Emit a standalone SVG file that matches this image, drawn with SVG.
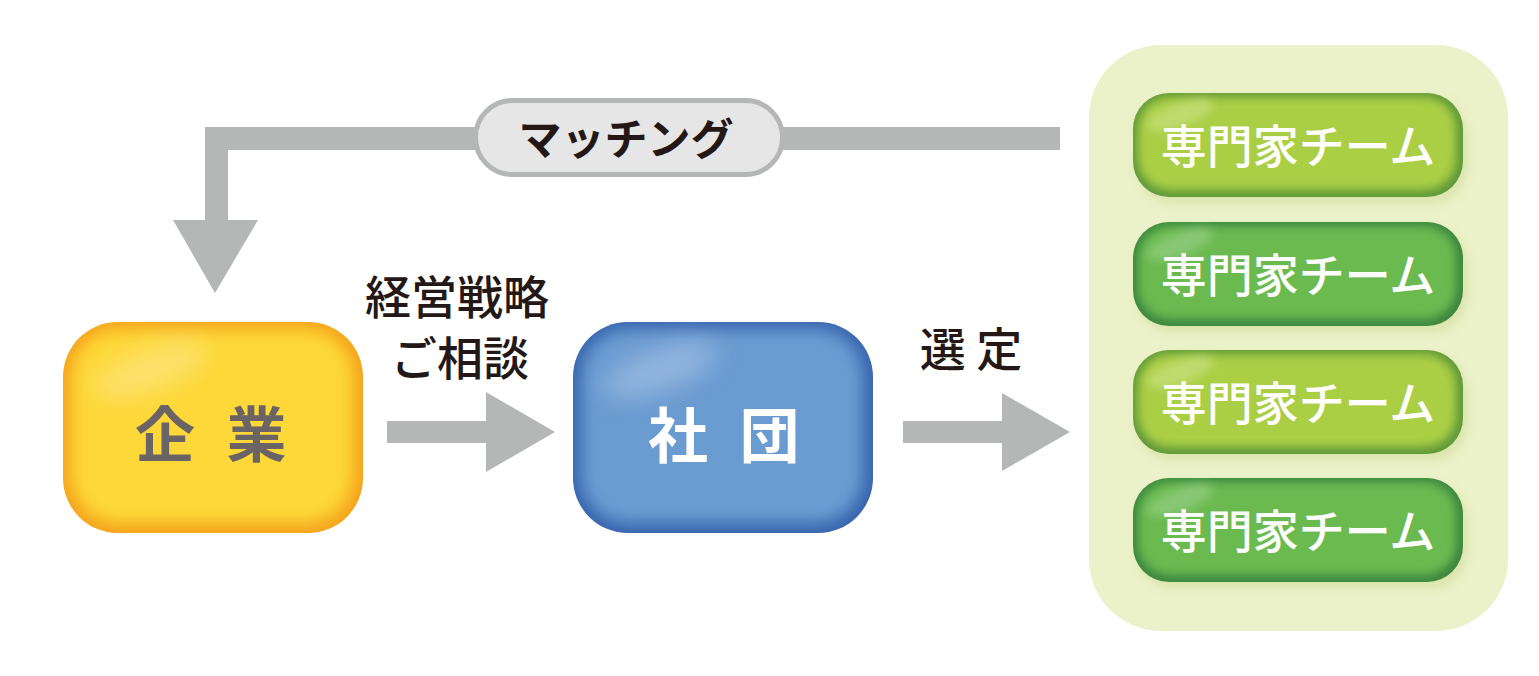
<svg xmlns="http://www.w3.org/2000/svg" width="1539" height="676" viewBox="0 0 1539 676">
<style>
.conn{fill:#b5b6b6}
.jp{font-family:"Noto Sans CJK JP","Noto Sans CJK SC",sans-serif}
.lbl{font-size:46px;fill:#231815;text-anchor:middle;font-weight:500}
.team{font-size:46px;fill:#ffffff;text-anchor:middle;font-weight:500}
.big{font-size:60px;font-weight:bold;letter-spacing:9px}
</style>
<defs>
<filter id="b8" x="-20%" y="-20%" width="140%" height="140%"><feGaussianBlur stdDeviation="8"/></filter>
<filter id="b5" x="-20%" y="-40%" width="140%" height="180%"><feGaussianBlur stdDeviation="5"/></filter>
<filter id="b12" x="-50%" y="-50%" width="200%" height="200%"><feGaussianBlur stdDeviation="12"/></filter>
<clipPath id="cY"><rect x="63" y="322" width="300" height="211" rx="55"/></clipPath>
<clipPath id="cB"><rect x="573" y="322" width="300" height="211" rx="55"/></clipPath>
<clipPath id="cG1"><rect x="1133" y="93" width="330" height="104" rx="36"/></clipPath>
<clipPath id="cG2"><rect x="1133" y="222" width="330" height="104" rx="36"/></clipPath>
<clipPath id="cG3"><rect x="1133" y="350" width="330" height="104" rx="36"/></clipPath>
<clipPath id="cG4"><rect x="1133" y="478" width="330" height="104" rx="36"/></clipPath>
</defs>
<rect width="1539" height="676" fill="#ffffff"/>

<g id="panel">
<rect x="1089" y="45" width="419" height="586" rx="72" fill="#ebf1c8"/>
</g>

<g id="connectors">
<polygon class="conn" points="1060,127 205,127 205,220 173,220 215,293 258,220 228,220 228,150 1060,150"/>
<polygon class="conn" points="387,421 486,421 486,392 555,432 486,472 486,443 387,443"/>
<polygon class="conn" points="903,421 1002,421 1002,393 1070,432 1002,471 1002,443 903,443"/>
</g>

<g id="matching">
<rect x="475.5" y="100.5" width="307" height="74" rx="37" fill="#e6e6e6" stroke="#b5b6b6" stroke-width="5"/>
<text class="jp" x="626" y="155" font-size="43" font-weight="bold" fill="#231815" text-anchor="middle">マッチング</text>
</g>

<g id="label-consult">
<text class="jp lbl" x="457" y="314">経営戦略</text>
<text class="jp lbl" x="460" y="375">ご相談</text>
</g>

<g id="label-select">
<text class="jp lbl" x="971" y="366" font-size="49">選 定</text>
</g>

<g id="kigyo">
<g clip-path="url(#cY)">
<rect x="63" y="322" width="300" height="211" fill="#f5a31b"/>
<rect x="71" y="329" width="282" height="194" rx="48" fill="#fdd839" filter="url(#b8)"/>
<ellipse cx="150" cy="370" rx="60" ry="22" fill="#feeaa0" opacity="0.5" filter="url(#b12)" transform="rotate(-20 150 370)"/>
</g>
<text class="jp big" x="135" y="457" fill="#6b6464">企 業</text>
</g>

<g id="shadan">
<g clip-path="url(#cB)">
<rect x="573" y="322" width="300" height="211" fill="#3764ad"/>
<rect x="581" y="329" width="282" height="194" rx="48" fill="#6b9bd1" filter="url(#b8)"/>
<ellipse cx="660" cy="370" rx="60" ry="22" fill="#b7cdea" opacity="0.5" filter="url(#b12)" transform="rotate(-20 660 370)"/>
</g>
<text class="jp big" x="648" y="458" fill="#ffffff">社 団</text>
</g>

<g id="team1">
<rect x="1137" y="99" width="330" height="104" rx="36" fill="#c9d98f" opacity="0.5" filter="url(#b5)"/>
<g clip-path="url(#cG1)">
<rect x="1133" y="93" width="330" height="104" fill="#5f983a"/>
<rect x="1138" y="97" width="318" height="93" rx="32" fill="#aacf45" filter="url(#b5)"/>
<ellipse cx="1180" cy="115" rx="35" ry="12" fill="#d2e898" opacity="0.5" filter="url(#b5)" transform="rotate(-20 1180 115)"/>
</g>
<text class="jp team" x="1298" y="163">専門家チーム</text>
</g>

<g id="team2">
<rect x="1137" y="228" width="330" height="104" rx="36" fill="#c9d98f" opacity="0.5" filter="url(#b5)"/>
<g clip-path="url(#cG2)">
<rect x="1133" y="222" width="330" height="104" fill="#3c8640"/>
<rect x="1138" y="226" width="318" height="93" rx="32" fill="#6aba4f" filter="url(#b5)"/>
<ellipse cx="1180" cy="244" rx="35" ry="12" fill="#a6d69a" opacity="0.5" filter="url(#b5)" transform="rotate(-20 1180 244)"/>
</g>
<text class="jp team" x="1298" y="292">専門家チーム</text>
</g>

<g id="team3">
<rect x="1137" y="356" width="330" height="104" rx="36" fill="#c9d98f" opacity="0.5" filter="url(#b5)"/>
<g clip-path="url(#cG3)">
<rect x="1133" y="350" width="330" height="104" fill="#5f983a"/>
<rect x="1138" y="354" width="318" height="93" rx="32" fill="#aacf45" filter="url(#b5)"/>
<ellipse cx="1180" cy="372" rx="35" ry="12" fill="#d2e898" opacity="0.5" filter="url(#b5)" transform="rotate(-20 1180 372)"/>
</g>
<text class="jp team" x="1298" y="420">専門家チーム</text>
</g>

<g id="team4">
<rect x="1137" y="484" width="330" height="104" rx="36" fill="#c9d98f" opacity="0.5" filter="url(#b5)"/>
<g clip-path="url(#cG4)">
<rect x="1133" y="478" width="330" height="104" fill="#3c8640"/>
<rect x="1138" y="482" width="318" height="93" rx="32" fill="#6aba4f" filter="url(#b5)"/>
<ellipse cx="1180" cy="500" rx="35" ry="12" fill="#a6d69a" opacity="0.5" filter="url(#b5)" transform="rotate(-20 1180 500)"/>
</g>
<text class="jp team" x="1298" y="548">専門家チーム</text>
</g>
</svg>
